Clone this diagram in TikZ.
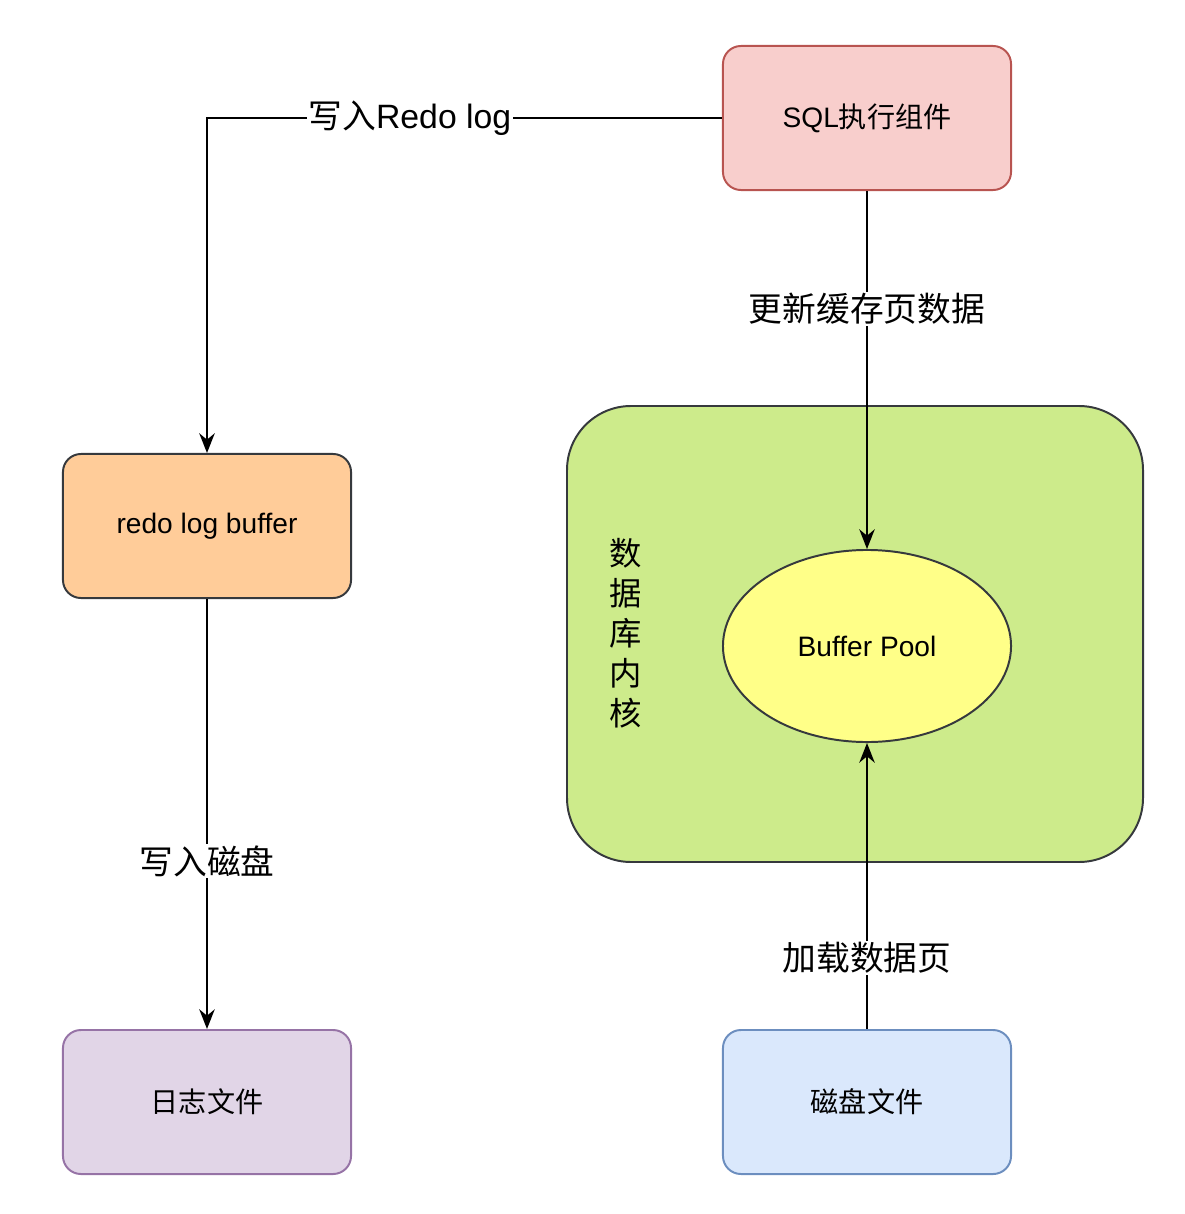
\documentclass[tikz,border=0pt]{standalone}
\usepackage{fontspec}
\setmainfont{Liberation Sans}
\newfontfamily\cjk{Noto Sans CJK SC}
\usetikzlibrary{arrows.meta, shapes.geometric}

\begin{document}
\begin{tikzpicture}[x=0.025cm, y=-0.025cm,
    box/.style={rounded corners=0.45cm, line width=1.4pt, minimum width=7.2cm, minimum height=3.6cm, font=\fontsize{20}{24}\selectfont},
    flow/.style={line width=1.4pt, -{Stealth[length=14pt, width=11pt]}},
    flowlabel/.style={fill=white, inner sep=1pt, font=\fontsize{24}{28}\selectfont}]

    % Define colours
    \definecolor{sqlFill}{HTML}{F8CECC}
    \definecolor{sqlBorder}{HTML}{B85450}
    \definecolor{bufFill}{HTML}{FFCC99}
    \definecolor{darkBorder}{HTML}{36393D}
    \definecolor{logFill}{HTML}{E1D5E7}
    \definecolor{logBorder}{HTML}{9673A6}
    \definecolor{diskFill}{HTML}{DAE8FC}
    \definecolor{diskBorder}{HTML}{6C8EBF}
    \definecolor{kernelFill}{HTML}{CDEB8B}
    \definecolor{poolFill}{HTML}{FFFF88}

    \useasboundingbox (0,0) rectangle (1184,1214);

    % Database kernel container
    \filldraw[fill=kernelFill, draw=darkBorder, line width=1.4pt, rounded corners=1.6cm]
        (567,406) rectangle (1143,862);
    \node[align=center, font=\fontsize{23}{28.5}\selectfont\cjk] (kernel) at (626,633)
        {数\\据\\库\\内\\核};

    % Buffer pool
    \node[ellipse, draw=darkBorder, fill=poolFill, line width=1.4pt, minimum width=7.2cm,
        minimum height=4.8cm, font=\fontsize{20}{24}\selectfont] (pool) at (867,646) {Buffer Pool};

    % Boxes
    \node[box, draw=sqlBorder, fill=sqlFill] (sql) at (867,118) {SQL{\cjk 执行组件}};
    \node[box, draw=darkBorder, fill=bufFill] (redo) at (207,526) {redo log buffer};
    \node[box, draw=logBorder, fill=logFill] (logfile) at (207,1102) {\cjk 日志文件};
    \node[box, draw=diskBorder, fill=diskFill] (disk) at (867,1102) {\cjk 磁盘文件};

    % Connectors
    \draw[flow] (sql.west) -| (redo.north)
        node[flowlabel, pos=0.303] {{\cjk 写入}Redo log};
    \draw[flow] (sql.south) -- (pool.north)
        node[flowlabel, pos=0.33] {\cjk 更新缓存页数据};
    \draw[flow] (redo.south) -- (logfile.north)
        node[flowlabel, pos=0.61] {\cjk 写入磁盘};
    \draw[flow] (disk.north) -- (pool.south)
        node[flowlabel, pos=0.25] {\cjk 加载数据页};

\end{tikzpicture}
\end{document}
